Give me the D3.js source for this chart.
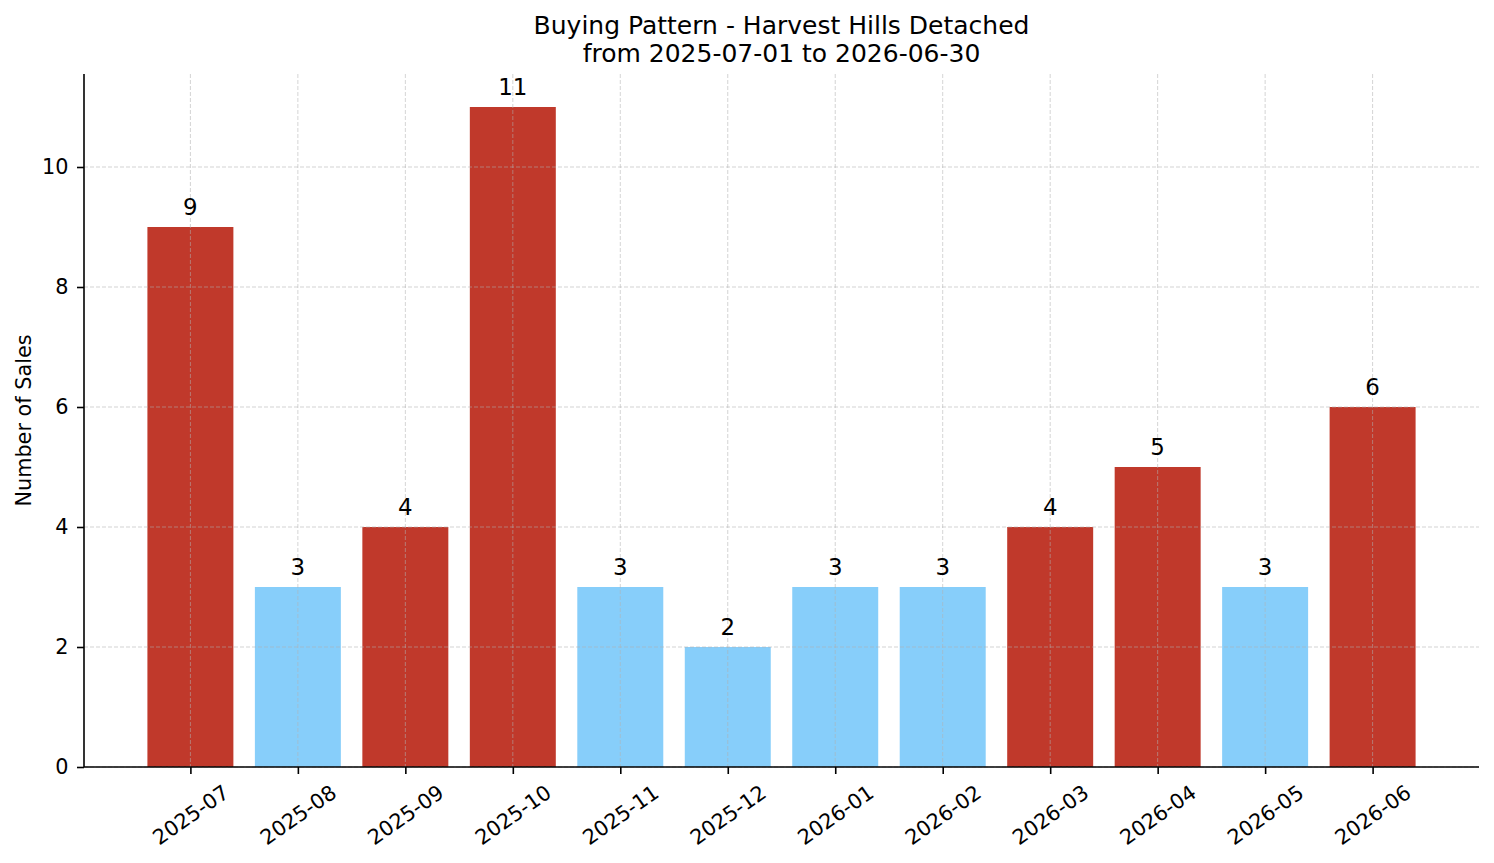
<!DOCTYPE html>
<html>
<head>
<meta charset="utf-8">
<script src="https://cdn.jsdelivr.net/npm/d3@7"></script>
<style>
  body { margin: 0; background: #fff; }
  svg { font-family: "DejaVu Sans", sans-serif; }
</style>
</head>
<body>
<div id="vis"></div>
<script>
// data
var months = ['2025-07', '2025-08', '2025-09', '2025-10', '2025-11', '2025-12',
  '2026-01', '2026-02', '2026-03', '2026-04', '2026-05', '2026-06'];
var sales = [9, 3, 4, 11, 3, 2, 3, 3, 4, 5, 3, 6];
var yTicks = [0, 2, 4, 6, 8, 10];
var titleLines = ['Buying Pattern - Harvest Hills Detached', 'from 2025-07-01 to 2026-06-30'];

// sizing
var width = 1494;
var height = 863;
var margin = { top: 74, right: 15, bottom: 96, left: 84 };
var plotW = width - margin.left - margin.right;
var plotH = height - margin.top - margin.bottom;

var highColor = '#c0392b';
var lowColor = '#87cefa';
var cutoff = d3.median(sales);

var svg = d3.select('#vis').append('svg')
  .attr('width', width)
  .attr('height', height);

var g = svg.append('g')
  .attr('transform', 'translate(' + margin.left + ',' + margin.top + ')');

// bar width 0.8, matplotlib-ish 5% margins
var barW = 0.8;
var span = (months.length - 1) + barW;
var pad = span * 0.05;
var x = d3.scaleLinear()
  .domain([-barW / 2 - pad, months.length - 1 + barW / 2 + pad])
  .range([0, plotW]);

var y = d3.scaleLinear()
  .domain([0, d3.max(sales) * 1.05])
  .range([plotH, 0]);

// bars
g.selectAll('.bar')
  .data(sales)
  .enter().append('rect')
  .attr('class', 'bar')
  .attr('x', function (d, i) { return x(i - barW / 2); })
  .attr('width', function () { return x(barW) - x(0); })
  .attr('y', function (d) { return y(d); })
  .attr('height', function (d) { return y(0) - y(d); })
  .attr('fill', function (d) { return d > cutoff ? highColor : lowColor; });

// grid on top of bars
var grid = g.append('g').attr('class', 'grid');
grid.selectAll('.gy')
  .data(yTicks)
  .enter().append('line')
  .attr('x1', 0).attr('x2', plotW)
  .attr('y1', function (d) { return y(d); })
  .attr('y2', function (d) { return y(d); });
grid.selectAll('.gx')
  .data(months)
  .enter().append('line')
  .attr('x1', function (d, i) { return x(i); })
  .attr('x2', function (d, i) { return x(i); })
  .attr('y1', 0).attr('y2', plotH);
grid.selectAll('line')
  .attr('stroke', '#b0b0b0')
  .attr('stroke-opacity', 0.55)
  .attr('stroke-width', 1)
  .attr('stroke-dasharray', '4,2');

// value labels
g.selectAll('.val')
  .data(sales)
  .enter().append('text')
  .attr('class', 'val')
  .attr('x', function (d, i) { return x(i); })
  .attr('y', function (d) { return y(d) - 12.5; })
  .attr('text-anchor', 'middle')
  .style('font-size', '22.9px')
  .text(function (d) { return d; });

// y axis
var yAxis = g.append('g')
  .call(d3.axisLeft(y).tickValues(yTicks).tickSize(7).tickPadding(8.5));
yAxis.attr('font-family', null);
yAxis.select('.domain').attr('stroke', '#000').attr('stroke-width', 1.6)
  .attr('d', 'M0,' + plotH + 'V0');
yAxis.selectAll('.tick line').attr('stroke', '#000').attr('stroke-width', 1.6);
yAxis.selectAll('.tick text').style('font-size', '20.8px').attr('fill', '#000');

// x axis
var xAxis = g.append('g')
  .attr('transform', 'translate(0,' + plotH + ')')
  .call(d3.axisBottom(x).tickValues(d3.range(months.length)).tickSize(7)
    .tickFormat(function (i) { return months[i]; }));
xAxis.attr('font-family', null);
xAxis.select('.domain').attr('stroke', '#000').attr('stroke-width', 1.6)
  .attr('d', 'M0,0H' + plotW);
xAxis.selectAll('.tick line').attr('stroke', '#000').attr('stroke-width', 1.6);
xAxis.selectAll('.tick text')
  .style('font-size', '20.8px')
  .attr('fill', '#000')
  .attr('text-anchor', 'middle')
  .attr('dy', null)
  .attr('y', 0)
  .attr('dominant-baseline', 'central')
  .attr('transform', 'translate(0,48) rotate(-35)');

// y label
svg.append('text')
  .attr('transform', 'translate(31,' + (margin.top + plotH / 2) + ') rotate(-90)')
  .attr('text-anchor', 'middle')
  .style('font-size', '20.8px')
  .text('Number of Sales');

// title
svg.append('g').selectAll('text')
  .data(titleLines)
  .enter().append('text')
  .attr('x', margin.left + plotW / 2)
  .attr('y', function (d, i) { return 34 + i * 28; })
  .attr('text-anchor', 'middle')
  .style('font-size', '25px')
  .text(function (d) { return d; });
</script>
</body>
</html>
